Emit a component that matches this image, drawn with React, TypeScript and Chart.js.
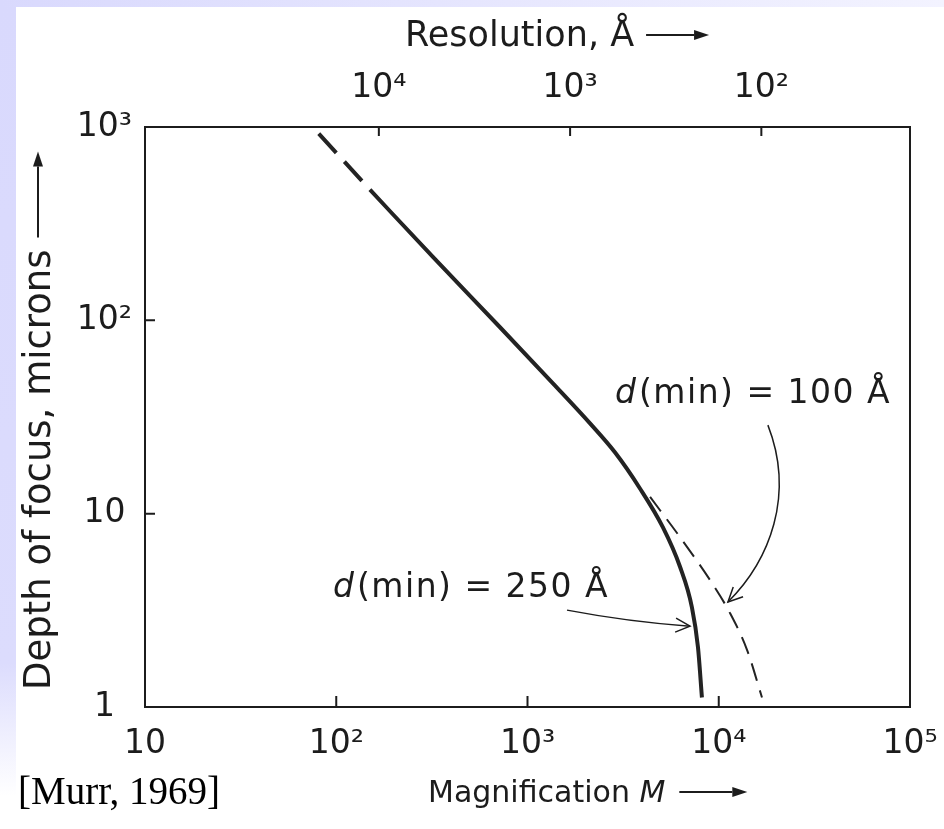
import React, { useEffect, useRef } from 'react';
import { Chart, registerables } from 'chart.js';

Chart.register(...registerables);

// ---- Axis ticks ----
const magnificationTicks = [10, 100, 1000, 10000, 100000];
const magnificationTickLabels = ['10', '10²', '10³', '10⁴', '10⁵'];
const depthTicks = [1, 10, 100, 1000];
const depthTickLabels = ['1', '10', '10²', '10³'];
const resolutionTicks = [10000, 1000, 100];
const resolutionTickLabels = ['10⁴', '10³', '10²'];
// resolution (Å) at M = 10 and at M = 1e5 (top axis runs the other way)
const resolutionAtLeft = 167000;
const resolutionAtRight = 16.7;

// ---- Curves: magnification M vs depth of focus D (microns) ----
const extrapolatedM = [81, 150];
const extrapolatedD = [924, 474];
const dmin250M = [150, 321, 718, 1358, 2123, 2871, 3873, 5108, 6266, 7244, 7786, 8166];
const dmin250D = [474, 212, 92.1, 47.2, 29.3, 20.7, 13.5, 8.49, 5.33, 3.27, 2.04, 1.12];
const dmin100M = [4375, 6266, 8995, 11450, 14070, 16830];
const dmin100D = [12.2, 7.57, 4.54, 3.06, 1.97, 1.12];

// ---- Annotations (anchored in data coordinates: [M, D]) ----
const note100Anchor = [2868, 37.3];
const note100Value = '100';
const note250Anchor = [96.2, 3.7];
const note250Value = '250';
const arrow100Path = [[18070, 28.7], [25060, 12.5], [18540, 5.75], [11170, 3.49]];
const arrow250Path = [[1609, 3.17], [3436, 2.75], [7073, 2.62]];

const yTitle = 'Depth of focus, microns';
const topTitle = 'Resolution, Å';
const bottomTitle = 'Magnification';
const bottomTitleVar = 'M';
const citation = '[Murr, 1969]';

const FONT = '"DejaVu Sans", "Liberation Sans", Arial, sans-serif';
const INK = '#1c1c1c';
const LINE = '#232323';

function labelFor(vals: number[], labels: string[], v: number) {
  const i = vals.findIndex((t) => Math.abs(t - v) / t < 1e-6);
  return i >= 0 ? labels[i] : '';
}

function longArrow(ctx: CanvasRenderingContext2D, x1: number, y1: number, x2: number, y2: number) {
  const a = Math.atan2(y2 - y1, x2 - x1);
  const hl = 15;
  const hw = 5;
  ctx.beginPath();
  ctx.moveTo(x1, y1);
  ctx.lineTo(x2 - hl * Math.cos(a), y2 - hl * Math.sin(a));
  ctx.lineWidth = 2;
  ctx.stroke();
  ctx.beginPath();
  ctx.moveTo(x2, y2);
  ctx.lineTo(x2 - hl * Math.cos(a) - hw * Math.sin(a), y2 - hl * Math.sin(a) + hw * Math.cos(a));
  ctx.lineTo(x2 - hl * Math.cos(a) + hw * Math.sin(a), y2 - hl * Math.sin(a) - hw * Math.cos(a));
  ctx.closePath();
  ctx.fill();
}

function openHead(ctx: CanvasRenderingContext2D, x: number, y: number, a: number, len: number) {
  ctx.beginPath();
  ctx.moveTo(x - len * Math.cos(a - 0.45), y - len * Math.sin(a - 0.45));
  ctx.lineTo(x, y);
  ctx.lineTo(x - len * Math.cos(a + 0.45), y - len * Math.sin(a + 0.45));
  ctx.stroke();
}

const decorPlugin = {
  id: 'decor',
  afterDraw(chart: any) {
    const { ctx, chartArea } = chart;
    const sx = chart.scales.x;
    const sy = chart.scales.y;
    const sx2 = chart.scales.x2;
    const P = (p: number[]) => [sx.getPixelForValue(p[0]), sy.getPixelForValue(p[1])];
    ctx.save();
    ctx.strokeStyle = INK;
    ctx.fillStyle = INK;
    ctx.lineWidth = 2;

    // inner tick marks
    ctx.beginPath();
    depthTicks.slice(1, -1).forEach((v) => {
      const y = sy.getPixelForValue(v);
      ctx.moveTo(chartArea.left, y);
      ctx.lineTo(chartArea.left + 10, y);
    });
    magnificationTicks.slice(1, -1).forEach((v) => {
      const x = sx.getPixelForValue(v);
      ctx.moveTo(x, chartArea.bottom);
      ctx.lineTo(x, chartArea.bottom - 11);
    });
    resolutionTicks.forEach((v) => {
      const x = sx2.getPixelForValue(v);
      ctx.moveTo(x, chartArea.top);
      ctx.lineTo(x, chartArea.top + 9);
    });
    ctx.stroke();

    // annotation texts
    const note = (anchor: number[], val: string) => {
      const [x, y] = P(anchor);
      ctx.textAlign = 'left';
      ctx.textBaseline = 'alphabetic';
      ctx.font = `italic 33px ${FONT}`;
      ctx.fillText('d', x, y);
      const dw = ctx.measureText('d').width;
      ctx.font = `33px ${FONT}`;
      (ctx as any).letterSpacing = '1.5px';
      ctx.fillText(`(min) = ${val} Å`, x + dw + 3, y);
      (ctx as any).letterSpacing = '0px';
    };
    note(note100Anchor, note100Value);
    note(note250Anchor, note250Value);

    // annotation arrows
    ctx.lineWidth = 1.5;
    const a = arrow100Path.map(P);
    ctx.beginPath();
    ctx.moveTo(a[0][0], a[0][1]);
    ctx.bezierCurveTo(a[1][0], a[1][1], a[2][0], a[2][1], a[3][0], a[3][1]);
    ctx.stroke();
    openHead(ctx, a[3][0], a[3][1], Math.atan2(a[3][1] - a[2][1], a[3][0] - a[2][0]), 16);
    const b = arrow250Path.map(P);
    ctx.beginPath();
    ctx.moveTo(b[0][0], b[0][1]);
    ctx.quadraticCurveTo(b[1][0], b[1][1], b[2][0], b[2][1]);
    ctx.stroke();
    openHead(ctx, b[2][0], b[2][1], Math.atan2(b[2][1] - b[1][1], b[2][0] - b[1][0]), 16);

    // axis titles
    ctx.textAlign = 'left';
    ctx.textBaseline = 'alphabetic';
    ctx.font = `35px ${FONT}`;
    // top
    const tx = chartArea.left + 260;
    const ty = chartArea.top - 81;
    ctx.fillText(topTitle, tx, ty);
    const tw = ctx.measureText(topTitle).width;
    longArrow(ctx, tx + tw + 12, ty - 11, tx + tw + 75, ty - 11);
    // bottom
    ctx.font = `30px ${FONT}`;
    const bx = chartArea.left + 283;
    const by = chartArea.bottom + 95;
    ctx.fillText(bottomTitle + ' ', bx, by);
    const bw = ctx.measureText(bottomTitle + ' ').width;
    ctx.font = `italic 30px ${FONT}`;
    ctx.fillText(bottomTitleVar, bx + bw, by);
    const mw = ctx.measureText(bottomTitleVar).width;
    longArrow(ctx, bx + bw + mw + 14, by - 10, bx + bw + mw + 82, by - 10);
    // left (rotated)
    ctx.save();
    ctx.translate(chartArea.left - 95, chartArea.bottom - 17);
    ctx.rotate(-Math.PI / 2);
    ctx.font = `37px ${FONT}`;
    ctx.fillText(yTitle, 0, 0);
    const yw = ctx.measureText(yTitle).width;
    longArrow(ctx, yw + 12, -12, yw + 98, -12);
    ctx.restore();

    // citation
    ctx.font = '39px "Liberation Serif", "Times New Roman", serif';
    ctx.fillStyle = '#000';
    ctx.fillText(citation, 2, chart.height - 25);
    ctx.restore();
  },
};

export default function App() {
  const ref = useRef<HTMLCanvasElement | null>(null);
  useEffect(() => {
    if (!ref.current) return;
    const tickFont = { family: FONT, size: 33 };
    const horizFit = (h: number) => (s: any) => { s.height = h; s.paddingLeft = 0; s.paddingRight = 0; };
    const vertFit = (w: number) => (s: any) => { s.width = w; s.paddingTop = 0; s.paddingBottom = 0; };
    const chart = new Chart(ref.current, {
      type: 'scatter',
      data: {
        datasets: [
          {
            label: 'extrapolated',
            data: extrapolatedM.map((m, i) => ({ x: m, y: extrapolatedD[i] })),
            showLine: true,
            borderColor: LINE,
            borderWidth: 4,
            borderDash: [26, 12],
            pointRadius: 0,
            xAxisID: 'x',
            yAxisID: 'y',
          },
          {
            label: 'd(min) = 250 Å',
            data: dmin250M.map((m, i) => ({ x: m, y: dmin250D[i] })),
            showLine: true,
            borderColor: LINE,
            borderWidth: 4,
            pointRadius: 0,
            cubicInterpolationMode: 'monotone',
            xAxisID: 'x',
            yAxisID: 'y',
          },
          {
            label: 'd(min) = 100 Å',
            data: dmin100M.map((m, i) => ({ x: m, y: dmin100D[i] })),
            showLine: true,
            borderColor: LINE,
            borderWidth: 2,
            borderDash: [18, 10],
            pointRadius: 0,
            cubicInterpolationMode: 'monotone',
            xAxisID: 'x',
            yAxisID: 'y',
          },
        ],
      },
      options: {
        animation: false,
        responsive: false,
        devicePixelRatio: 1,
        layout: { padding: 0, autoPadding: false },
        plugins: { legend: { display: false }, tooltip: { enabled: false } },
        scales: {
          x: {
            type: 'logarithmic',
            position: 'bottom',
            min: 10,
            max: 100000,
            afterBuildTicks: (s: any) => { s.ticks = magnificationTicks.map((v) => ({ value: v })); },
            afterFit: horizFit(122),
            grid: { display: false, drawTicks: false },
            border: { display: true, color: INK, width: 2 },
            ticks: {
              autoSkip: false, maxRotation: 0, padding: 18, color: INK, font: tickFont,
              callback: (v: any) => labelFor(magnificationTicks, magnificationTickLabels, Number(v)),
            },
          },
          x2: {
            type: 'logarithmic',
            position: 'top',
            reverse: true,
            min: resolutionAtRight,
            max: resolutionAtLeft,
            afterBuildTicks: (s: any) => { s.ticks = resolutionTicks.map((v) => ({ value: v })); },
            afterFit: horizFit(120),
            grid: { display: false, drawTicks: false },
            border: { display: true, color: INK, width: 2 },
            ticks: {
              autoSkip: false, maxRotation: 0, padding: 19, color: INK, font: tickFont,
              callback: (v: any) => labelFor(resolutionTicks, resolutionTickLabels, Number(v)),
            },
          },
          y: {
            type: 'logarithmic',
            position: 'left',
            min: 1,
            max: 1000,
            afterBuildTicks: (s: any) => { s.ticks = depthTicks.map((v) => ({ value: v })); },
            afterFit: vertFit(129),
            grid: { display: false, drawTicks: false },
            border: { display: true, color: INK, width: 2 },
            ticks: {
              autoSkip: false, crossAlign: 'center', padding: 13, color: INK, font: tickFont,
              callback: (v: any) => labelFor(depthTicks, depthTickLabels, Number(v)),
            },
          },
          y2: {
            type: 'logarithmic',
            position: 'right',
            min: 1,
            max: 1000,
            afterFit: vertFit(34),
            grid: { display: false, drawTicks: false },
            border: { display: true, color: INK, width: 2 },
            ticks: { display: false },
          },
        },
      } as any,
      plugins: [decorPlugin],
    });
    return () => chart.destroy();
  }, []);

  return (
    <div style={{ position: 'absolute', left: 0, top: 0, width: 944, height: 829, background: '#ffffff', overflow: 'hidden' }}>
      <div style={{ position: 'absolute', left: 0, top: 0, width: 16, height: 829, background: 'linear-gradient(to bottom, #d9d9fd 0%, #dcdcfd 80%, #ffffff 96%)' }} />
      <div style={{ position: 'absolute', left: 0, top: 0, width: 944, height: 7, background: 'linear-gradient(to right, #d9d9fd, #f3f3ff)' }} />
      <div style={{ position: 'absolute', left: 16, top: 7, width: 928, height: 822, background: '#ffffff' }}>
        <canvas ref={ref} width={928} height={822} style={{ display: 'block' }} />
      </div>
    </div>
  );
}
